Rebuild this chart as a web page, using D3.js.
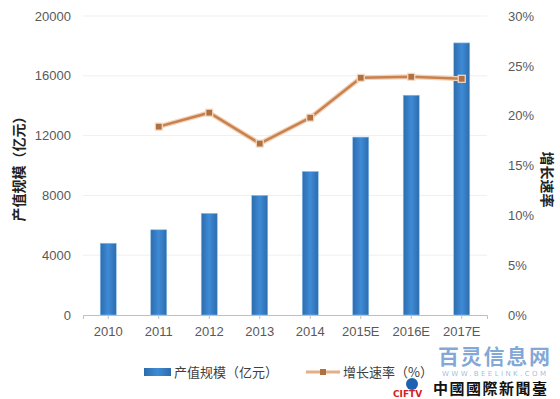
<!DOCTYPE html>
<html>
<head>
<meta charset="utf-8">
<script src="https://cdn.jsdelivr.net/npm/d3@7"></script>
<style>
  body { margin: 0; background: #fff; }
  svg { display: block; font-family: "Noto Sans", "Noto Sans CJK SC", sans-serif; }
  .tick text { fill: #595959; font-size: 13px; }
</style>
</head>
<body>
<div id="chart"></div>
<script>
// chart data
const years = ['2010', '2011', '2012', '2013', '2014', '2015E', '2016E', '2017E']
const output = [4800, 5700, 6800, 8000, 9600, 11900, 14700, 18200]
const growth = [null, 18.9, 20.3, 17.2, 19.8, 23.8, 23.9, 23.7]
const leftTicks = [0, 4000, 8000, 12000, 16000, 20000]
const rightTicks = [0, 5, 10, 15, 20, 25, 30]

const width = 560, height = 399
const margin = {top: 16, right: 73, bottom: 84, left: 83}
const w = width - margin.left - margin.right
const h = height - margin.top - margin.bottom

const svg = d3.select('#chart').append('svg')
  .attr('width', width).attr('height', height)

const defs = svg.append('defs')
const grad = defs.append('linearGradient').attr('id', 'barGrad')
  .attr('x1', '0%').attr('x2', '100%').attr('y1', '0%').attr('y2', '0%')
grad.append('stop').attr('offset', '0%').attr('stop-color', '#2c6cad')
grad.append('stop').attr('offset', '50%').attr('stop-color', '#3f8bd6')
grad.append('stop').attr('offset', '100%').attr('stop-color', '#2c6cad')

const g = svg.append('g')
  .attr('transform', 'translate(' + margin.left + ',' + margin.top + ')')

const x = d3.scaleBand().domain(years).range([0, w])
const yL = d3.scaleLinear().domain([0, 20000]).range([h, 0])
const yR = d3.scaleLinear().domain([0, 30]).range([h, 0])

// grid
g.append('g').attr('class', 'grid')
  .selectAll('line').data(leftTicks.slice(1)).join('line')
  .attr('x1', 0).attr('x2', w)
  .attr('y1', d => yL(d)).attr('y2', d => yL(d))
  .attr('stroke', '#efefef')

// bars
const barW = 16
g.append('g').selectAll('rect').data(output).join('rect')
  .attr('x', (d, i) => x(years[i]) + x.bandwidth() / 2 - barW / 2)
  .attr('y', d => yL(d))
  .attr('width', barW)
  .attr('height', d => h - yL(d))
  .attr('fill', 'url(#barGrad)')
  .attr('stroke', '#8fbfea')
  .attr('stroke-width', 0.6)

// axes
const xAxis = g.append('g').attr('transform', 'translate(0,' + h + ')')
  .call(d3.axisBottom(x).tickSize(4).tickPadding(8))
xAxis.select('.domain').attr('stroke', '#bfbfbf')
xAxis.selectAll('.tick line').attr('stroke', '#bfbfbf')

const yAxisL = g.append('g')
  .call(d3.axisLeft(yL).tickValues(leftTicks).tickSize(0).tickPadding(12)
    .tickFormat(d3.format('d')))
yAxisL.select('.domain').remove()

const yAxisR = g.append('g').attr('transform', 'translate(' + w + ',0)')
  .call(d3.axisRight(yR).tickValues(rightTicks).tickSize(0).tickPadding(21)
    .tickFormat(d => d + '%'))
yAxisR.select('.domain').remove()

// growth line
const pts = growth.map((v, i) => ({year: years[i], v: v})).filter(d => d.v !== null)
const line = d3.line()
  .x(d => x(d.year) + x.bandwidth() / 2)
  .y(d => yR(d.v))
g.append('path').datum(pts).attr('d', line)
  .attr('fill', 'none').attr('stroke', '#f3d2b8').attr('stroke-width', 5)
g.append('path').datum(pts).attr('d', line)
  .attr('fill', 'none').attr('stroke', '#c8824f').attr('stroke-width', 2.5)
g.append('g').selectAll('rect').data(pts).join('rect')
  .attr('x', d => x(d.year) + x.bandwidth() / 2 - 3.5)
  .attr('y', d => yR(d.v) - 3.5)
  .attr('width', 7).attr('height', 7)
  .attr('fill', '#b0703f').attr('stroke', '#f6dcc8').attr('stroke-width', 1.2)

// axis titles
svg.append('text')
  .attr('transform', 'translate(24,' + (margin.top + h / 2) + ') rotate(-90)')
  .attr('text-anchor', 'middle')
  .attr('font-size', 14).attr('font-weight', 'bold').attr('fill', '#222')
  .attr('font-family', '"Noto Sans CJK SC"')
  .text('产值规模（亿元）')
svg.append('text')
  .attr('transform', 'translate(542,' + (margin.top + h / 2 + 14) + ') rotate(90)')
  .attr('text-anchor', 'middle')
  .attr('font-size', 14).attr('font-weight', 'bold').attr('fill', '#222')
  .attr('font-family', '"Noto Sans CJK SC"')
  .text('增长速率')

// legend
const lg = svg.append('g').attr('font-family', '"Noto Sans CJK SC"')
  .attr('font-size', 13).attr('fill', '#404040')
lg.append('rect').attr('x', 144).attr('y', 368).attr('width', 27).attr('height', 8)
  .attr('fill', 'url(#barGrad)')
lg.append('text').attr('x', 174).attr('y', 377).text('产值规模（亿元）')
lg.append('line').attr('x1', 306).attr('x2', 340).attr('y1', 372).attr('y2', 372)
  .attr('stroke', '#e6ae84').attr('stroke-width', 3)
lg.append('rect').attr('x', 320).attr('y', 369).attr('width', 6).attr('height', 6)
  .attr('fill', '#b0703f')
lg.append('text').attr('x', 343).attr('y', 377).text('增长速率（%）')

// watermark (kept clear of the year labels and legend so the texts stay readable)
const wm = svg.append('g').attr('font-family', '"Noto Sans CJK SC"')
wm.append('text').attr('x', 438).attr('y', 364).attr('font-size', 21)
  .attr('font-weight', 'bold').attr('fill', '#4c7fc4').attr('fill-opacity', 0.7)
  .attr('textLength', 112).text('百灵信息网')
wm.append('text').attr('x', 442).attr('y', 376).attr('font-size', 7)
  .attr('font-family', '"DejaVu Sans"').attr('fill', '#4c7fc4').attr('fill-opacity', 0.55)
  .attr('textLength', 104).text('WWW.BEELINK.COM')
wm.append('circle').attr('cx', 412).attr('cy', 384).attr('r', 6).attr('fill', '#1d62b0')
wm.append('text').attr('x', 393).attr('y', 397).attr('font-size', 9)
  .attr('font-weight', 'bold').attr('font-family', '"DejaVu Sans"').attr('fill', '#d62020')
  .text('CIFTV')
wm.append('text').attr('x', 433).attr('y', 394).attr('font-size', 15)
  .attr('font-weight', 'bold').attr('fill', '#111').attr('font-family', '"Noto Sans CJK TC"')
  .attr('textLength', 114).text('中國國際新聞臺')
</script>
</body>
</html>
